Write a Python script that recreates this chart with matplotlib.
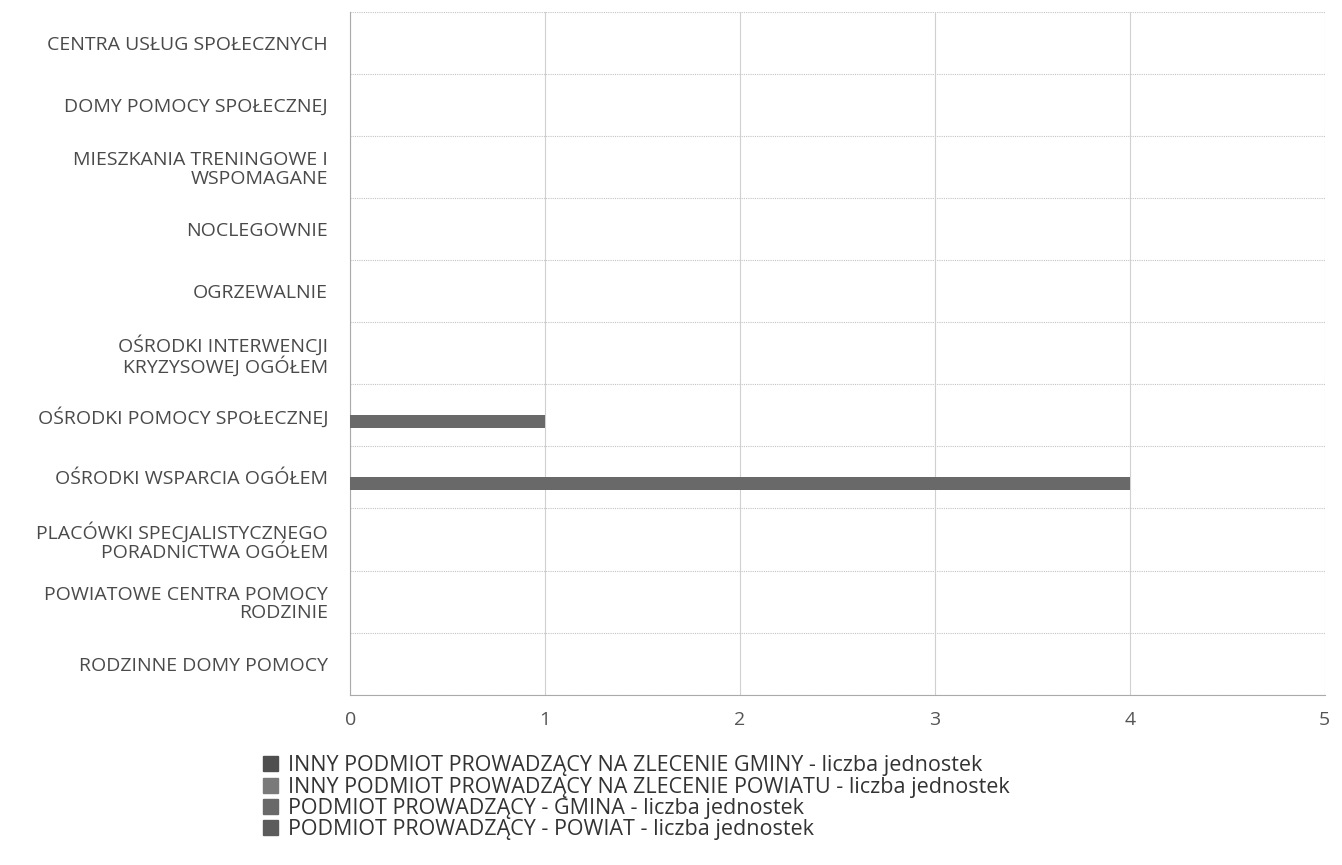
import numpy as np
import matplotlib.pyplot as plt
from matplotlib.patches import Patch

plt.rcParams['font.family'] = ['Open Sans', 'DejaVu Sans']

# --- data ---
categories = [
    "CENTRA USŁUG SPOŁECZNYCH",
    "DOMY POMOCY SPOŁECZNEJ",
    "MIESZKANIA TRENINGOWE I\nWSPOMAGANE",
    "NOCLEGOWNIE",
    "OGRZEWALNIE",
    "OŚRODKI INTERWENCJI\nKRYZYSOWEJ OGÓŁEM",
    "OŚRODKI POMOCY SPOŁECZNEJ",
    "OŚRODKI WSPARCIA OGÓŁEM",
    "PLACÓWKI SPECJALISTYCZNEGO\nPORADNICTWA OGÓŁEM",
    "POWIATOWE CENTRA POMOCY\nRODZINIE",
    "RODZINNE DOMY POMOCY",
]
series_names = [
    "INNY PODMIOT PROWADZĄCY NA ZLECENIE GMINY - liczba jednostek",
    "INNY PODMIOT PROWADZĄCY NA ZLECENIE POWIATU - liczba jednostek",
    "PODMIOT PROWADZĄCY - GMINA - liczba jednostek",
    "PODMIOT PROWADZĄCY - POWIAT - liczba jednostek",
]
inny_gmina = [0, 0, 0, 0, 0, 0, 0, 0, 0, 0, 0]
inny_powiat = [0, 0, 0, 0, 0, 0, 0, 0, 0, 0, 0]
gmina = [0, 0, 0, 0, 0, 0, 1, 4, 0, 0, 0]
powiat = [0, 0, 0, 0, 0, 0, 0, 0, 0, 0, 0]
series_values = [inny_gmina, inny_powiat, gmina, powiat]
series_colors = ['#4f4f4f', '#7a7a7a', '#696969', '#5c5c5c']

fig = plt.figure(figsize=(13.42, 8.65), dpi=100)
ax = fig.add_axes([0.261, 0.197, 0.726, 0.789])

y = np.arange(len(categories))
h = 0.21
for i, (vals, col) in enumerate(zip(series_values, series_colors)):
    ax.barh(y + (i - 1.5) * h, vals, height=h, color=col, zorder=3)

ax.set_ylim(len(categories) - 0.5, -0.5)
ax.set_xlim(0, 5)
ax.set_yticks(y)
ax.set_yticklabels(categories, fontsize=14, color='#4a4a4a', linespacing=1.05)
ax.set_xticks(range(6))
ax.tick_params(axis='x', labelsize=14, colors='#555555', length=0, pad=12)
ax.tick_params(axis='y', length=0, pad=16)

# grid: solid verticals, dotted row separators
ax.grid(axis='x', color='#d0d0d0', linewidth=0.8, zorder=0)
for b in np.arange(-0.5, len(categories), 1.0):
    ax.axhline(b, color='#c4c4c4', linewidth=0.8, linestyle=(0, (1, 1)), zorder=0)

for s in ['top', 'right']:
    ax.spines[s].set_visible(False)
ax.spines['left'].set_color('#aaaaaa')
ax.spines['bottom'].set_color('#aaaaaa')

handles = [Patch(facecolor=c, edgecolor=c) for c in series_colors]
fig.legend(handles, series_names, loc='upper left', bbox_to_anchor=(0.196, 0.127),
           frameon=False, fontsize=15.5, handlelength=0.7, handleheight=0.7,
           handletextpad=0.45, labelspacing=0.02, labelcolor='#333333',
           borderaxespad=0, borderpad=0)

fig.savefig('out.png', dpi=100, facecolor='white')
